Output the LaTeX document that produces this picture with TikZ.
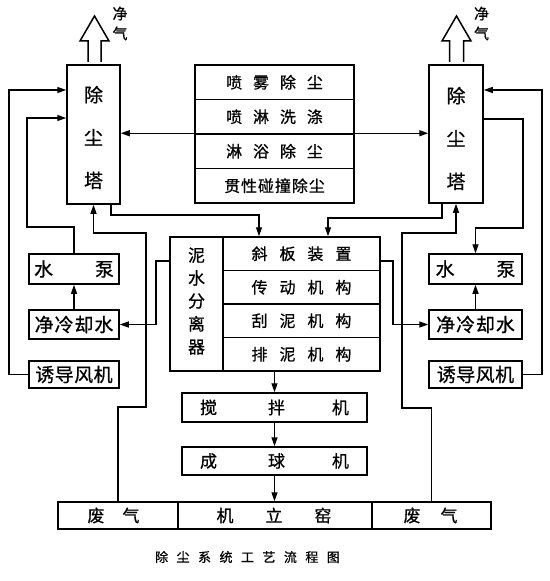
\documentclass[tikz,border=0pt]{standalone}
\usepackage{fontspec}
\newfontfamily\cjk{Noto Sans CJK SC}[FakeBold=0.8]
\usetikzlibrary{arrows.meta}
\begin{document}
\begin{tikzpicture}[x=1bp,y=-1bp,
  box/.style={draw,line width=1.5bp,inner sep=0pt},
  arr/.style={line width=1.3bp,-{Triangle[length=9bp,width=6bp]}},
  tx/.style={inner sep=0pt,font=\cjk\fontsize{16}{16}\selectfont},
  tb/.style={inner sep=0pt,font=\cjk\fontsize{19}{19}\selectfont},
  tm/.style={inner sep=0pt,font=\cjk\fontsize{17}{17}\selectfont},
  vtower/.style={inner sep=0pt,align=center,font=\cjk\fontsize{19}{43}\selectfont},
  vsep/.style={inner sep=0pt,align=center,font=\cjk\fontsize{17}{23}\selectfont},
  vgas/.style={inner sep=0pt,align=center,font=\cjk\fontsize{15}{20}\selectfont},
  captiontext/.style={inner sep=0pt,font=\cjk\fontsize{13}{13}\selectfont},
  block/.style={line width=1.5bp,fill=white,line join=miter}]
\useasboundingbox (0,0) rectangle (550,581);
\fill[white] (0,0) rectangle (550,581);

% towers
\node[box,minimum width=53bp,minimum height=139bp] (towerL) at (93.5,134.5) {};
\node[box,minimum width=54bp,minimum height=138bp] (towerR) at (456,134) {};
\node[vtower] (towerLt) at (93.5,137.5) {除\\尘\\塔};
\node[vtower] (towerRt) at (456,138.5) {除\\尘\\塔};

% clean gas block arrows
\draw[block] (88,62) -- (88,41) -- (80,41) -- (94.5,16) -- (109,41) -- (101,41) -- (101,62);
\draw[block] (449.5,62) -- (449.5,41) -- (442,41) -- (456.5,16) -- (471,41) -- (463.5,41) -- (463.5,62);
\node[vgas] (gasL) at (120,23.5) {净\\气};
\node[vgas] (gasR) at (481.5,23.5) {净\\气};

% top middle box
\node[box,tx,minimum width=159bp,minimum height=34.5bp] (t1) at (274.5,82.25) {喷\hspace{11bp}雾\hspace{11bp}除\hspace{11bp}尘};
\node[box,tx,minimum width=159bp,minimum height=34.5bp] (t2) at (274.5,116.75) {喷\hspace{11bp}淋\hspace{11bp}洗\hspace{11bp}涤};
\node[box,tx,minimum width=159bp,minimum height=34.5bp] (t3) at (274.5,151.25) {淋\hspace{11bp}浴\hspace{11bp}除\hspace{11bp}尘};
\node[box,tx,minimum width=159bp,minimum height=34.5bp] (t4) at (274.5,185.75) {贯\hspace{1bp}性\hspace{1bp}碰\hspace{1bp}撞\hspace{1bp}除\hspace{1bp}尘};

% separator
\node[box,minimum width=53bp,minimum height=134bp] (sepL) at (196.5,304) {};
\node[vsep] (sepLt) at (196.5,301) {泥\\水\\分\\离\\器};
\node[box,tx,minimum width=157bp,minimum height=33.5bp] (s1) at (301.5,253.75) {斜\hspace{12bp}板\hspace{12bp}装\hspace{12bp}置};
\node[box,tx,minimum width=157bp,minimum height=33.5bp] (s2) at (301.5,287.25) {传\hspace{12bp}动\hspace{12bp}机\hspace{12bp}构};
\node[box,tx,minimum width=157bp,minimum height=33.5bp] (s3) at (301.5,320.75) {刮\hspace{12bp}泥\hspace{12bp}机\hspace{12bp}构};
\node[box,tx,minimum width=157bp,minimum height=33.5bp] (s4) at (301.5,354.25) {排\hspace{12bp}泥\hspace{12bp}机\hspace{12bp}构};

% side boxes left
\node[box,tb,minimum width=90bp,minimum height=30bp] (pumpL) at (74,269) {水\hspace{42bp}泵};
\node[box,tb,minimum width=90bp,minimum height=29bp] (coolL) at (74,324.5) {净\hspace{1bp}冷\hspace{1bp}却\hspace{1bp}水};
\node[box,tb,minimum width=90bp,minimum height=27bp] (fanL) at (74,374.5) {诱\hspace{0.5bp}导\hspace{0.5bp}风\hspace{0.5bp}机};
% side boxes right
\node[box,tb,minimum width=93bp,minimum height=30bp] (pumpR) at (475.5,269) {水\hspace{42bp}泵};
\node[box,tb,minimum width=93bp,minimum height=29bp] (coolR) at (475.5,324.5) {净\hspace{1bp}冷\hspace{1bp}却\hspace{1bp}水};
\node[box,tb,minimum width=93bp,minimum height=27bp] (fanR) at (475.5,374.5) {诱\hspace{0.5bp}导\hspace{0.5bp}风\hspace{0.5bp}机};

% middle chain
\node[box,tm,minimum width=185bp,minimum height=29bp] (mix) at (274.5,407.5) {搅\hspace{51bp}拌\hspace{47bp}机};
\node[box,tm,minimum width=185bp,minimum height=28bp] (ball) at (274.5,461) {成\hspace{51bp}球\hspace{47bp}机};

% bottom
\node[box,minimum width=120bp,minimum height=27bp] (fqL) at (118,515.5) {};
\node[box,minimum width=194bp,minimum height=27bp] (kiln) at (275,515.5) {};
\node[box,minimum width=119bp,minimum height=27bp] (fqR) at (431.5,515.5) {};
\node[tm] (fqLt) at (113.5,515.5) {废\hspace{18bp}气};
\node[tm] (kilnt) at (274,515.5) {机\hspace{32bp}立\hspace{32bp}窑};
\node[tm] (fqRt) at (430.5,515.5) {废\hspace{20bp}气};

\node[captiontext] (caption) at (247.5,557) {除\hspace{8.5bp}尘\hspace{8.5bp}系\hspace{8.5bp}统\hspace{8.5bp}工\hspace{8.5bp}艺\hspace{8.5bp}流\hspace{8.5bp}程\hspace{8.5bp}图};

% bend coordinates
\coordinate (c1) at (111,215);
\coordinate (c2) at (259,215);
\coordinate (c3) at (442,218);
\coordinate (c4) at (328,218);
\coordinate (b2) at (146,407);
\coordinate (b3) at (146,233);
\coordinate (b5) at (402,408);
\coordinate (b6) at (402,233);
\coordinate (d1) at (156,261);
\coordinate (d2) at (393,261);
\coordinate (e1) at (27,227);
\coordinate (e2) at (27,118);
\coordinate (e3) at (9,90);
\coordinate (f1) at (523,119);
\coordinate (f2) at (523,228);
\coordinate (f3) at (542,90);

% connectors
\draw[arr] (t3.north west) -- (t3.north west -| towerL.east);
\draw[arr] (t3.north east) -- (t3.north east -| towerR.west);
\draw[arr] (c1 |- towerL.south) -- (c1) -- (c2) -- (c2 |- s1.north);
\draw[arr] (c3 |- towerR.south) -- (c3) -- (c4) -- (c4 |- s1.north);
\draw[arr] (fqL.north) |- (b2) -- (b3) -| (towerL.south);
\draw[arr] (fqR.north) |- (b5) -- (b6) -| (towerR.south);
\draw[arr] (d1 -| sepL.west) -- (d1) |- (coolL.east);
\draw[arr] (d2 -| s1.east) -- (d2) |- (coolR.west);
\draw[arr] (coolL.north) -- (pumpL.south);
\draw[arr] (coolR.north) -- (pumpR.south);
\draw[arr] (pumpL.north) |- (e1) -- (e2) -- (e2 -| towerL.west);
\draw[arr] (fanL.west) -| (e3) -- (e3 -| towerL.west);
\draw[arr] (f1 -| towerR.east) -- (f1) -- (f2) -| (pumpR.north);
\draw[arr] (fanR.east) -| (f3) -- (f3 -| towerR.east);
\draw[arr] (mix.north |- s4.south) -- (mix.north);
\draw[arr] (mix.south) -- (ball.north);
\draw[arr] (ball.south) -- (ball.south |- kiln.north);
\end{tikzpicture}
\end{document}
